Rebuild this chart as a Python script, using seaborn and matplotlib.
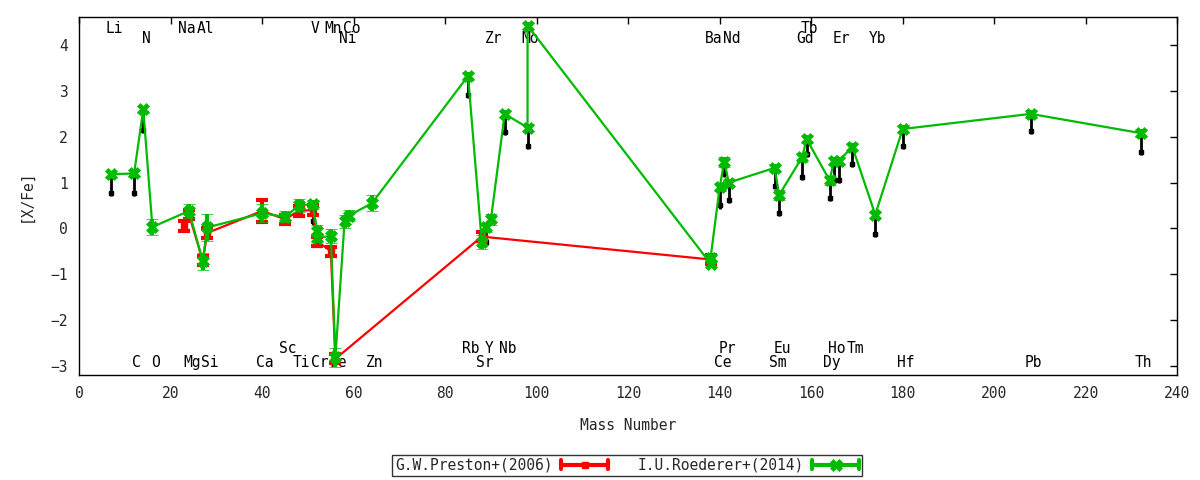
import numpy as np
import matplotlib
matplotlib.use('Agg')
import matplotlib.pyplot as plt
from matplotlib.lines import Line2D
from matplotlib.legend_handler import HandlerBase
import seaborn as sns

# Roederer+(2014), green
green_mass = [7, 12, 14, 16, 24, 27, 28, 40, 45, 48, 51, 52, 52, 55, 56, 58, 59, 64,
              85, 88, 89, 90, 93, 98, 98, 138, 138, 140, 141, 142, 152, 153, 158, 159,
              164, 165, 166, 169, 174, 180, 208, 232]
green_val = [1.18, 1.20, 2.60, 0.03, 0.38, -0.72, 0.02, 0.33, 0.25, 0.50, 0.53, -0.05, -0.20,
             -0.17, -2.82, 0.15, 0.28, 0.55, 3.33, -0.30, 0.02, 0.20, 2.50, 2.20, 4.43,
             -0.77, -0.65, 0.90, 1.45, 1.00, 1.32, 0.73, 1.55, 1.95, 1.05, 1.47, 1.47,
             1.78, 0.30, 2.17, 2.50, 2.08]
green_err = [0.08, 0.08, 0.08, 0.18, 0.15, 0.18, 0.30, 0.20, 0.12, 0.15, 0.10, 0.12, 0.10,
             0.15, 0.20, 0.15, 0.12, 0.18, 0.08, 0.15, 0.10, 0.12, 0.08, 0.08, 0.08,
             0.08, 0.08, 0.08, 0.10, 0.08, 0.08, 0.10, 0.10, 0.08, 0.10, 0.08, 0.08,
             0.08, 0.08, 0.08, 0.08, 0.08]

# Preston+(2006), red
red_mass = [23, 24, 27, 28, 40, 45, 48, 51, 52, 55, 56, 88, 138]
red_val = [0.05, 0.30, -0.70, -0.10, 0.38, 0.20, 0.38, 0.40, -0.28, -0.50, -2.85, -0.18, -0.68]
red_err = [0.10, 0.10, 0.10, 0.10, 0.25, 0.10, 0.10, 0.10, 0.10, 0.10, 0.10, 0.10, 0.10]

# unlabelled black points
black_mass = [7, 12, 14, 51, 85, 89, 93, 98, 140, 141, 142, 152, 153, 158, 159, 164, 165,
              166, 169, 174, 180, 208, 232]
black_val = [0.77, 0.78, 2.15, 0.15, 2.92, -0.30, 2.10, 1.80, 0.50, 1.20, 0.62, 0.93, 0.33,
             1.13, 1.62, 0.66, 1.06, 1.06, 1.40, -0.12, 1.80, 2.12, 1.67]
black_up = [0.40, 0.40, 0.42, 0.38, 0.40, 0.30, 0.40, 0.40, 0.40, 0.25, 0.38, 0.38, 0.40,
            0.40, 0.33, 0.38, 0.40, 0.40, 0.38, 0.40, 0.37, 0.38, 0.40]
black_down = 0.07

# element labels: symbol, mass, row (0,1 top; 2,3 bottom)
elem_sym = ['Li', 'Na', 'Al', 'V', 'Mn', 'Co', 'Tb',
            'N', 'Ni', 'Zr', 'Mo', 'Ba', 'Nd', 'Gd', 'Er', 'Yb',
            'Sc', 'Rb', 'Y', 'Nb', 'Pr', 'Eu', 'Ho', 'Tm',
            'C', 'O', 'Mg', 'Si', 'Ca', 'Ti', 'Cr', 'Fe', 'Zn', 'Sr', 'Ce', 'Sm', 'Dy',
            'Hf', 'Pb', 'Th']
elem_mass = [7, 23, 27, 51, 55, 59, 159,
             14, 58, 90, 98, 138, 142, 158, 166, 174,
             45, 85, 89, 93, 141, 153, 165, 169,
             12, 16, 24, 28, 40, 48, 52, 56, 64, 88, 140, 152, 164, 180, 208, 232]
elem_row = [0] * 7 + [1] * 9 + [2] * 8 + [3] * 16
row_y = {0: 4.37, 1: 4.15, 2: -2.63, 3: -2.93}


# legend sample like gnuplot: horizontal line with end bars and point in middle
class HandlerGnu(HandlerBase):
    def __init__(self, marker, ms, mew):
        super().__init__()
        self.marker = marker
        self.ms = ms
        self.mew = mew

    def create_artists(self, legend, orig_handle, xdescent, ydescent, width, height,
                       fontsize, trans):
        c = orig_handle.get_color()
        y = height / 2 - ydescent
        x0, x1 = -xdescent, width - xdescent
        h = height * 0.45
        arts = [Line2D([x0, x1], [y, y], color=c, lw=3),
                Line2D([x0, x0], [y - h, y + h], color=c, lw=3),
                Line2D([x1, x1], [y - h, y + h], color=c, lw=3),
                Line2D([(x0 + x1) / 2], [y], color=c, marker=self.marker, ms=self.ms,
                       mew=self.mew, ls='none')]
        for a in arts:
            a.set_transform(trans)
        return arts


sns.set_theme(style='white')
plt.rcParams['font.family'] = ['DejaVu Sans Mono']
plt.rcParams['xtick.direction'] = 'in'
plt.rcParams['ytick.direction'] = 'in'

fig, ax = plt.subplots(figsize=(12, 4.8), dpi=100)
fig.subplots_adjust(left=0.066, right=0.981, top=0.965, bottom=0.219)

for s, m, r in zip(elem_sym, elem_mass, elem_row):
    ax.text(m + 0.6, row_y[r], s, ha='center', va='center', fontsize=10.5,
            color='black', zorder=1)

# black points under everything
ax.errorbar(black_mass, black_val, yerr=[[black_down] * len(black_val), black_up],
            fmt='s', color='black', ms=3.5, elinewidth=2, capsize=0, zorder=2)

# connecting lines
sns.lineplot(x=red_mass, y=red_val, estimator=None, sort=False, color='#ff0000',
             lw=1.6, ax=ax, zorder=3)
sns.lineplot(x=green_mass, y=green_val, estimator=None, sort=False, color='#00bb00',
             lw=1.6, ax=ax, zorder=4)

ax.errorbar(red_mass, red_val, yerr=red_err, fmt='s', color='#ff0000', ms=4,
            elinewidth=3, capsize=4, capthick=3, ls='none', zorder=3)
ax.errorbar(green_mass, green_val, yerr=green_err, fmt='X', color='#00bb00', ms=9,
            mew=0.5, elinewidth=3, capsize=4, capthick=3, ls='none', zorder=4)

red_h = Line2D([], [], color='#ff0000', label='G.W.Preston+(2006)')
green_h = Line2D([], [], color='#00bb00', label='I.U.Roederer+(2014)')

ax.set_xlim(0, 240)
ax.set_ylim(-3.2, 4.62)
ax.set_xticks(np.arange(0, 241, 20))
ax.set_yticks(np.arange(-3, 5, 1))
ax.tick_params(axis='both', which='both', top=True, right=True, length=5, width=1,
               labelsize=10.5, color='black', pad=8)
for sp in ax.spines.values():
    sp.set_color('black')
    sp.set_linewidth(1)

ax.set_xlabel('Mass Number', fontsize=10.5, labelpad=12)
ax.set_ylabel('[X/Fe]', fontsize=10.5, labelpad=12)

leg = fig.legend(handles=[red_h, green_h], loc='center', bbox_to_anchor=(0.5225, 0.031),
                 ncol=2, markerfirst=False, frameon=True, fancybox=False, fontsize=10.5,
                 handlelength=3.2, handletextpad=0.6, columnspacing=2.0, borderpad=0.2,
                 borderaxespad=0, edgecolor='black',
                 handler_map={red_h: HandlerGnu('s', 5, 1), green_h: HandlerGnu('X', 9, 0.5)})
leg.get_frame().set_linewidth(1)

fig.savefig('out.png', dpi=100)
